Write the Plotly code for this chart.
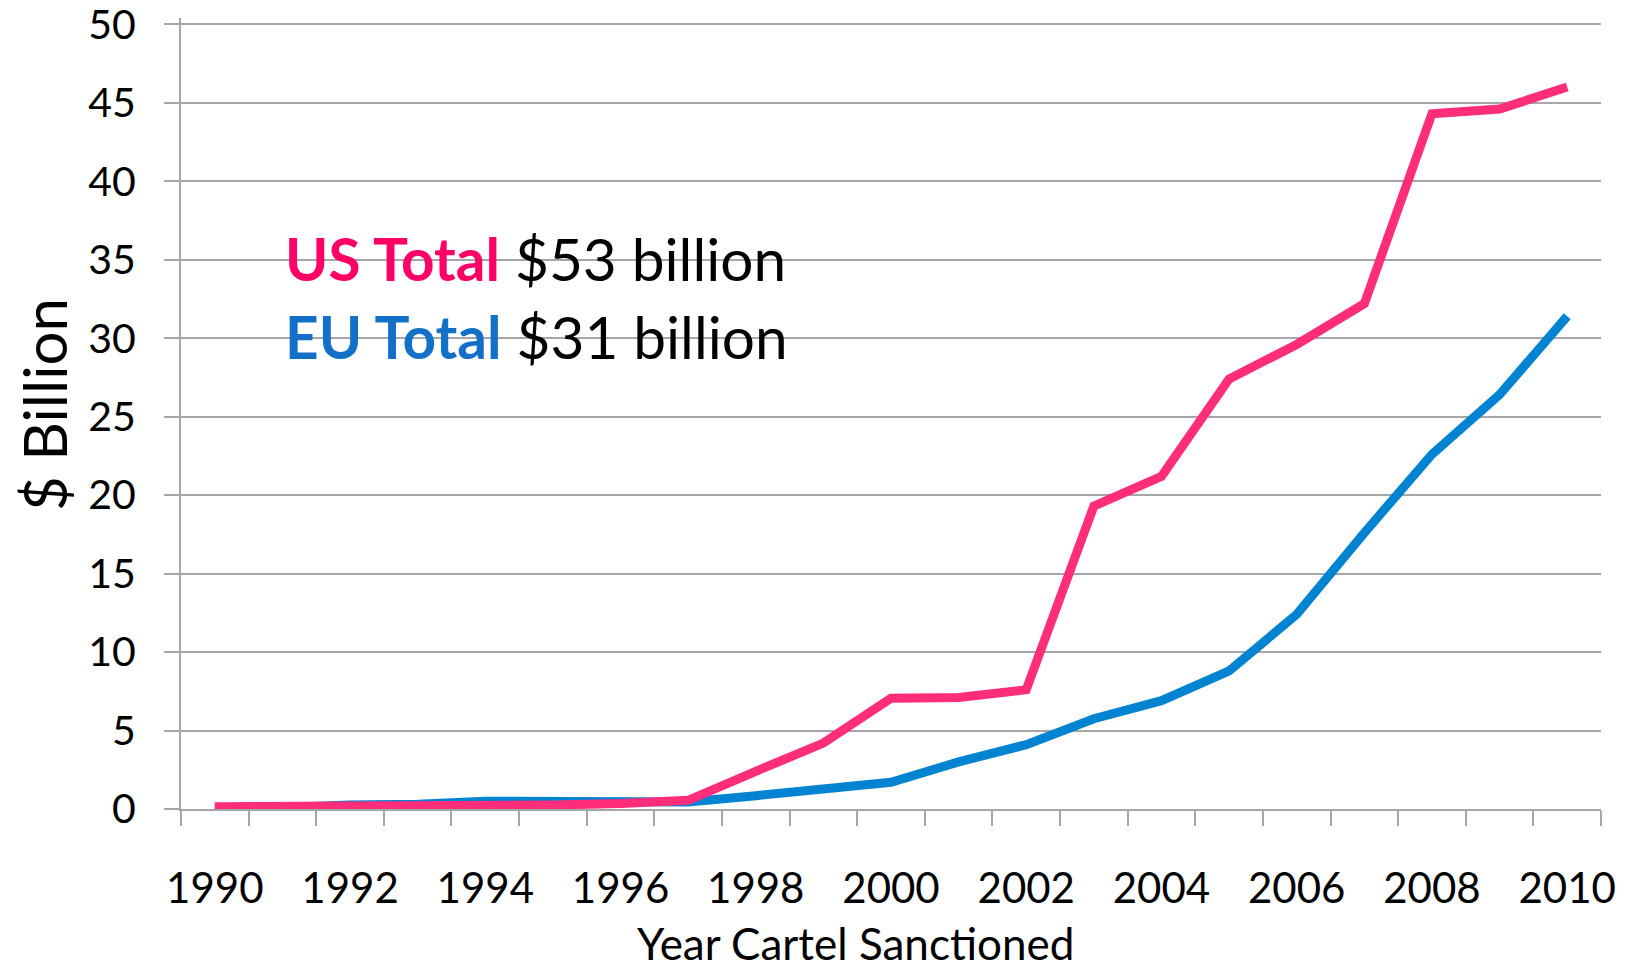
import plotly.graph_objects as go

years = list(range(1990, 2011))
us_total = [0.15, 0.15, 0.2, 0.2, 0.2, 0.25, 0.35, 0.55, 2.4, 4.2, 7.05, 7.1, 7.6,
            19.3, 21.2, 27.4, 29.6, 32.2, 44.3, 44.6, 46.0]
eu_total = [0.1, 0.1, 0.25, 0.3, 0.5, 0.5, 0.5, 0.45, 0.85, 1.25, 1.7, 3.0, 4.1,
            5.75, 6.9, 8.8, 12.4, 17.6, 22.6, 26.4, 31.4]
label_years = years[::2]

FONT = "Lato"
GRID = "#A6A6A6"
PINK_LINE = "#FF2D7A"
BLUE_LINE = "#0084D1"
PINK_TEXT = "#FF0066"
BLUE_TEXT = "#1270C8"

idx = list(range(len(years)))

fig = go.Figure()
fig.add_trace(go.Scatter(x=idx, y=eu_total, mode="lines", name="EU",
                         line=dict(color=BLUE_LINE, width=9), hoverinfo="x+y"))
fig.add_trace(go.Scatter(x=idx, y=us_total, mode="lines", name="US",
                         line=dict(color=PINK_LINE, width=9), hoverinfo="x+y"))

fig.update_layout(
    width=1627, height=970,
    margin=dict(l=180.5, r=26, t=17.5, b=161, autoexpand=False),
    plot_bgcolor="white", paper_bgcolor="white",
    showlegend=False,
    font=dict(family=FONT, color="black", size=42),
)

fig.update_xaxes(
    range=[-0.5, len(years) - 0.5],
    tickmode="array",
    tickvals=[years.index(y) for y in label_years],
    ticktext=[str(y) for y in label_years],
    ticks="",
    showgrid=False, zeroline=False,
    showline=True, linecolor=GRID, linewidth=2,
    tickfont=dict(family=FONT, size=42, color="black"),
    ticklabelstandoff=42,
    minor=dict(tickmode="array",
               tickvals=[i - 0.5 for i in range(len(years) + 1)],
               ticks="outside", ticklen=15, tickwidth=2, tickcolor=GRID,
               showgrid=False),
)

fig.update_yaxes(
    range=[0, 50.4], dtick=5, tick0=0,
    showgrid=True, gridcolor=GRID, gridwidth=2,
    zeroline=False,
    showline=True, linecolor=GRID, linewidth=2,
    ticks="outside", ticklen=15, tickwidth=2, tickcolor=GRID,
    tickfont=dict(family=FONT, size=41, color="black"),
    ticklabelstandoff=20,
    ticklabeloverflow="allow",
)

fig.add_annotation(text="Year Cartel Sanctioned", xref="paper", yref="paper",
                   x=0.4748, y=-0.169, xanchor="center", yanchor="middle",
                   showarrow=False, font=dict(family=FONT, size=44, color="black"))
fig.add_annotation(text="$ Billion", xref="paper", yref="paper",
                   x=-0.0964, y=0.511, xanchor="center", yanchor="middle",
                   textangle=-90, showarrow=False,
                   font=dict(family=FONT, size=60, color="black"))
fig.add_annotation(text=f"<b><span style='color:{PINK_TEXT}'>US Total</span></b> $53 billion",
                   xref="x", yref="y", x=-0.5 + (283 - 180.5) / 67.64, y=35.1,
                   xanchor="left", yanchor="middle", showarrow=False,
                   font=dict(family=FONT, size=58.5, color="black"))
fig.add_annotation(text=f"<b><span style='color:{BLUE_TEXT}'>EU Total</span></b> $31 billion",
                   xref="x", yref="y", x=-0.5 + (283 - 180.5) / 67.64, y=30.15,
                   xanchor="left", yanchor="middle", showarrow=False,
                   font=dict(family=FONT, size=58.5, color="black"))

fig.write_html("out.html",
               config={"displayModeBar": False},
               post_script="document.body.style.margin='0';document.body.style.overflow='hidden';")
